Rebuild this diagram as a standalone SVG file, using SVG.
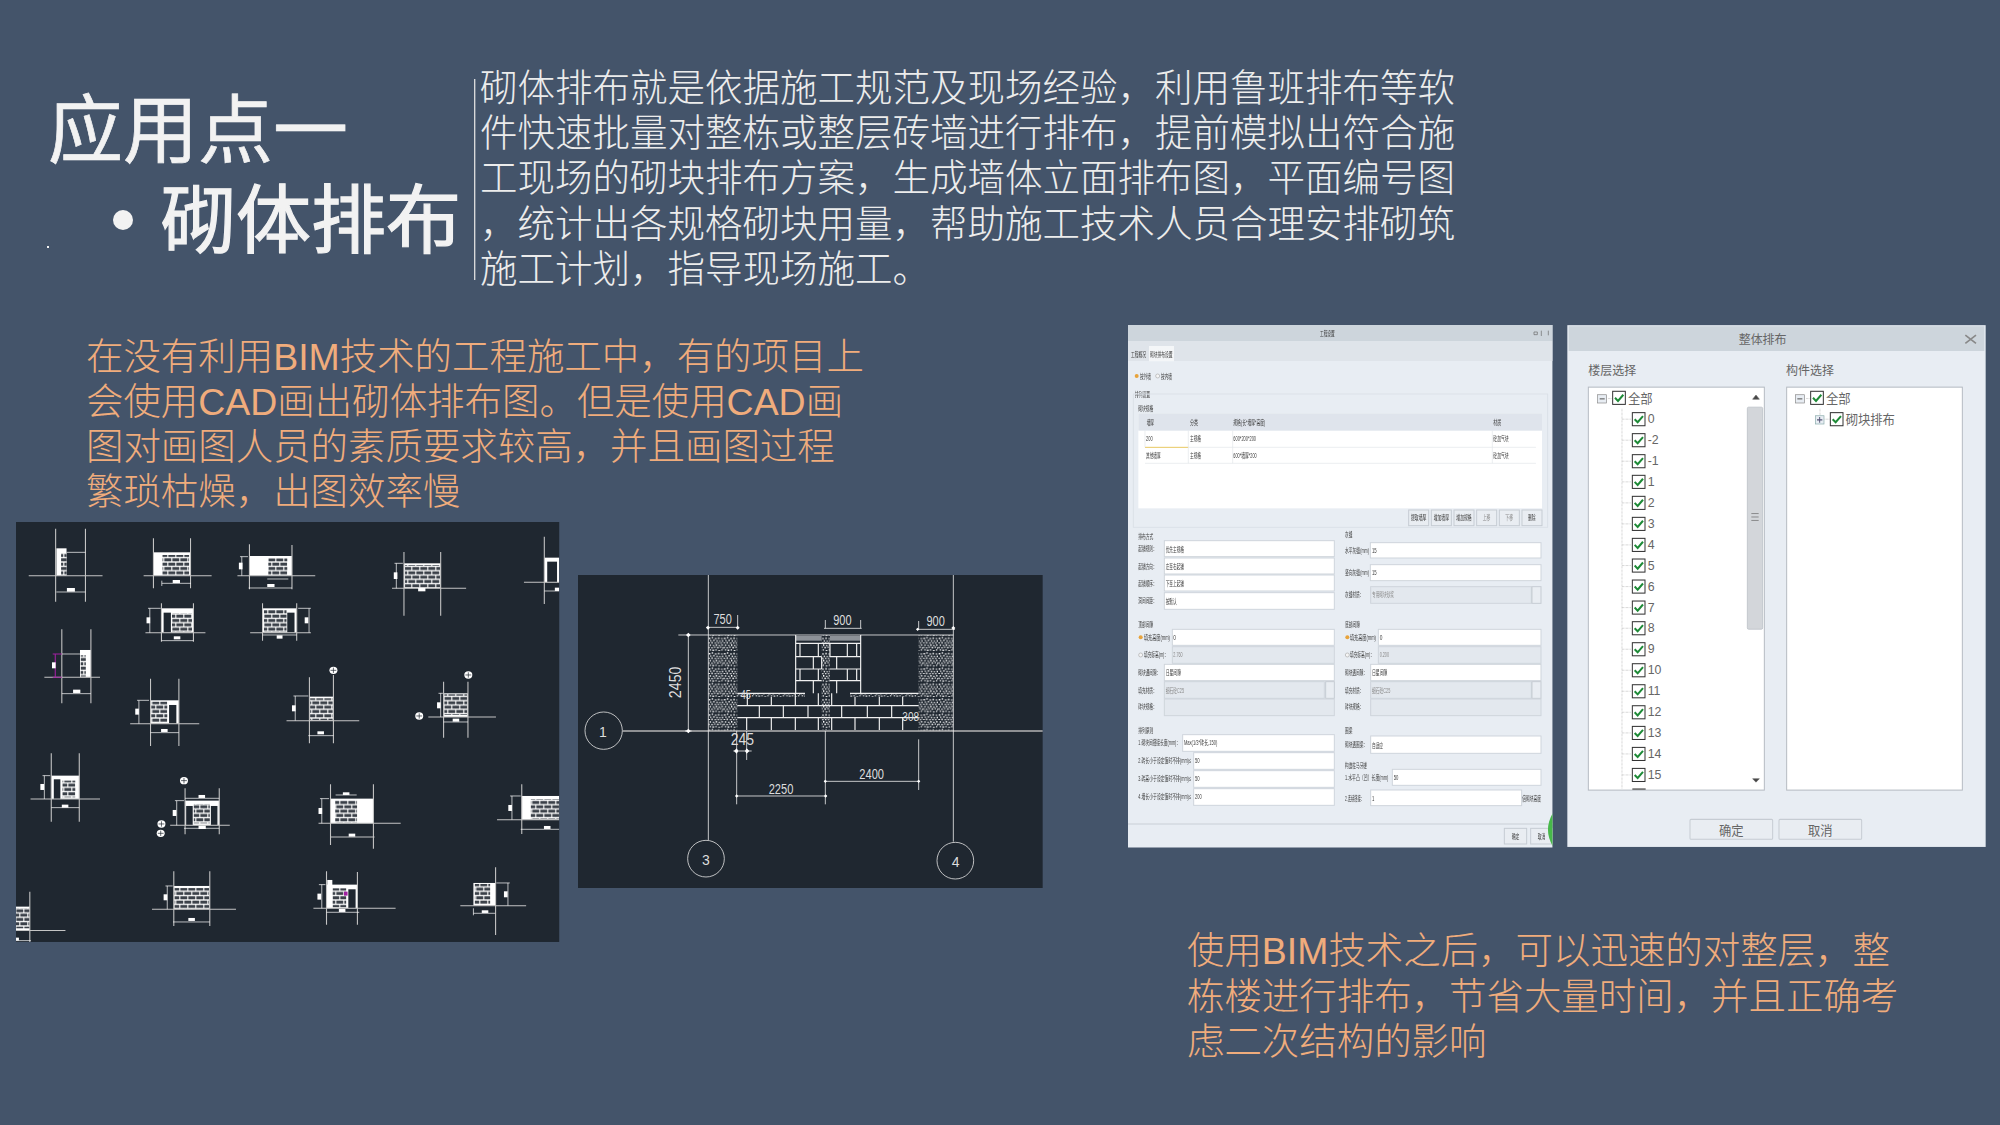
<svg xmlns="http://www.w3.org/2000/svg" xmlns:xlink="http://www.w3.org/1999/xlink" width="2000" height="1125" viewBox="0 0 2000 1125">
<style>
text{font-family:"Liberation Sans","Noto Sans CJK SC",sans-serif}
.title{font-family:"Noto Sans CJK SC",sans-serif;fill:#f2f2f2;stroke:#f2f2f2;font-size:75px}
.body{fill:#ececec;font-size:37.5px;font-weight:300}
.org{fill:#f0ac7c;font-size:37.45px;font-weight:300}
.cad{fill:#1f2730}
.g{stroke:#c4c4c4;stroke-width:3;fill:none}
.d{stroke:#fff;stroke-width:2;fill:none}
.w{fill:#fff}
.k{fill:#1f2730}
.b{fill:url(#brick)}
.l{stroke:#f0f0f0;stroke-width:2.4;fill:none}
.l2{stroke:#f0f0f0;stroke-width:3.5;fill:none}
.dt{fill:#ddd;text-anchor:middle}
.t{fill:#3c3c3c}
.tg{fill:#8a8a8a}
.in{fill:#fff;stroke:#cfd5dc;stroke-width:3}
.ds{fill:#e3e8ee;stroke:#cfd5dc;stroke-width:3}
.btn{fill:#e9edf2;stroke:#c6ccd3;stroke-width:3}
.sec{fill:none;stroke:#dbe1e8;stroke-width:3}
.u{fill:#666;font-size:37px}
.h{fill:#666;font-size:36px}
.bx{fill:#fff;stroke:#b5bbc2;stroke-width:3}
.dot{stroke:#aaa;stroke-width:2;stroke-dasharray:2 2;fill:none}
</style>
<defs>
<pattern id="brick" patternUnits="userSpaceOnUse" width="44" height="26">
<rect width="44" height="26" fill="#fff"/>
<rect x="1" y="2" width="19" height="9" fill="#3a4048"/><rect x="23" y="2" width="19" height="9" fill="#3a4048"/>
<rect x="0" y="15" width="9" height="9" fill="#3a4048"/><rect x="12" y="15" width="19" height="9" fill="#3a4048"/><rect x="34" y="15" width="10" height="9" fill="#3a4048"/>
</pattern>
<pattern id="stip" patternUnits="userSpaceOnUse" width="46" height="46">
<rect width="46" height="46" fill="#1f2730"/>
<path d="M2 3h5v4H2zM11 1h4v4h-4zM20 4h6v3h-6zM30 2h4v5h-4zM39 4h5v3h-5zM6 10h4v4H6zM15 9h5v4h-5zM25 11h4v4h-4zM33 12h5v3h-5zM42 11h4v4h-4zM1 17h5v3H1zM10 16h4v5h-4zM19 18h6v3h-6zM29 17h4v4h-4zM37 18h5v3h-5zM5 24h4v4H5zM14 25h5v3h-5zM23 23h4v5h-4zM32 25h4v4h-4zM40 24h5v3h-5zM1 31h4v4H1zM9 32h6v3H9zM18 30h4v4h-4zM27 31h5v4h-5zM36 30h4v4h-4zM43 32h3v4h-3zM5 38h4v4H5zM13 39h5v4h-5zM22 38h4v4h-4zM31 40h5v3h-5zM40 38h4v4h-4z" fill="#fff"/>
</pattern>
<clipPath id="c1"><rect x="44" y="36" width="1494" height="1260"/></clipPath>
<clipPath id="c3"><rect x="24" y="15" width="1274" height="1568"/></clipPath>
<filter id="soft" x="-2%" y="-2%" width="104%" height="104%"><feGaussianBlur stdDeviation="1"/></filter>
<g id="chk"><rect x="-19" y="-19" width="38" height="38" fill="#fff" stroke="#333" stroke-width="3"/><path d="M-12 0l9 9L13-9" fill="none" stroke="#1d8a36" stroke-width="6"/></g>
<g id="tag"><circle r="11" fill="#fff"/><path d="M-8 0H8M0-8V8" stroke="#1f2730" stroke-width="2"/></g>
</defs>
<rect width="2000" height="1125" fill="#44546a"/>
<g id="heading">
<text class="title" x="48" y="157" stroke-width="0.7" textLength="300">应用点一</text>
<circle cx="123" cy="220" r="10" fill="#f2f2f2"/>
<text class="title" x="161" y="247" stroke-width="1.2" textLength="300">砌体排布</text>
<rect x="47" y="246" width="2" height="2" fill="#f2f2f2"/>
</g>
<g id="intro">
<line x1="474.7" y1="79" x2="474.7" y2="280" stroke="#e0e0e0" stroke-width="1.3"/>
<text class="body" x="480" y="101">砌体排布就是依据施工规范及现场经验，利用鲁班排布等软</text>
<text class="body" x="480" y="146">件快速批量对整栋或整层砖墙进行排布，提前模拟出符合施</text>
<text class="body" x="480" y="191">工现场的砌块排布方案，生成墙体立面排布图，平面编号图</text>
<text class="body" x="480" y="237">，统计出各规格砌块用量，帮助施工技术人员合理安排砌筑</text>
<text class="body" x="480" y="282">施工计划，指导现场施工。</text>
</g>
<g id="note-left">
<text class="org" x="86" y="370">在没有利用BIM技术的工程施工中，有的项目上</text>
<text class="org" x="86" y="415">会使用CAD画出砌体排布图。但是使用CAD画</text>
<text class="org" x="86" y="460">图对画图人员的素质要求较高，并且画图过程</text>
<text class="org" x="86" y="505">繁琐枯燥，出图效率慢</text>
</g>
<g id="note-right">
<text class="org" x="1187" y="964">使用BIM技术之后，可以迅速的对整层，整</text>
<text class="org" x="1187" y="1010">栋楼进行排布，节省大量时间，并且正确考</text>
<text class="org" x="1187" y="1055">虑二次结构的影响</text>
</g>

<g id="cad-sheet" transform="translate(0,510) scale(0.3636,0.3333)">
<rect class="cad" x="44" y="36" width="1494" height="1260"/>
<g clip-path="url(#c1)">
<rect class="w" x="155" y="115" width="28" height="82"/><rect class="b" x="168" y="130" width="15" height="65"/>
<path class="g" d="M153 56V275M235 56V275M79 197H282"/><path class="d" d="M183 127H235M155 246H235"/><rect class="w" x="184" y="234" width="22" height="11"/>

<rect class="w" x="422" y="127" width="102" height="70"/><rect class="b" x="447" y="135" width="73" height="60"/>
<path class="g" d="M422 85V235M524 85V235M395 197H582"/><path class="d" d="M445 220H525M445 212V228"/><rect class="w" x="475" y="210" width="20" height="9"/>

<rect class="w" x="686" y="138" width="117" height="59"/><rect class="b" x="738" y="145" width="52" height="50"/>
<path class="g" d="M686 103V238M803 105V238M653 197H867"/><path class="d" d="M735 207H793M684 234H803M665 140V197M660 140H682"/><rect class="w" x="735" y="222" width="20" height="9"/><rect class="w" x="657" y="158" width="10" height="20"/>

<rect class="w" x="1111" y="160" width="101" height="75"/><rect class="b" x="1114" y="165" width="96" height="68"/>
<path class="g" d="M1111 126V317M1212 126V317M1078 235H1282"/><path class="d" d="M1090 160V235M1085 160H1108"/><rect class="w" x="1150" y="234" width="20" height="10"/><rect class="w" x="1083" y="187" width="10" height="20"/>

<rect class="w" x="1497" y="143" width="41" height="74"/><rect class="k" x="1505" y="155" width="27" height="62"/>
<path class="g" d="M1497 80V282M1441 217H1538"/><path class="d" d="M1497 243H1538"/><rect class="w" x="1526" y="233" width="12" height="10"/>

<rect class="w" x="444" y="295" width="88" height="73"/><rect class="k" x="450" y="308" width="20" height="60"/><rect class="b" x="473" y="310" width="55" height="56"/>
<path class="g" d="M444 280V395M532 280V395M400 368H565"/><path class="d" d="M412 295V368M407 295H442M444 392H532"/><rect class="w" x="403" y="322" width="10" height="18"/><rect class="w" x="478" y="379" width="18" height="9"/>

<rect class="w" x="722" y="295" width="94" height="73"/><rect class="b" x="726" y="300" width="62" height="66"/><rect class="k" x="790" y="308" width="20" height="60"/>
<path class="g" d="M722 280V392M816 280V392M688 368H855"/><path class="d" d="M850 295V368M820 295H855M722 375H816"/><rect class="w" x="838" y="322" width="10" height="18"/><rect class="w" x="761" y="376" width="16" height="10"/>

<rect class="w" x="220" y="420" width="30" height="82"/><rect class="b" x="222" y="436" width="14" height="64"/>
<path class="g" d="M170 358V580M250 358V580M122 502H275"/><path class="d" d="M170 432H220M170 551H250"/><path d="M152 432V502M145 432H170M145 502H170" stroke="#a020a0" stroke-width="3" fill="none"/><rect class="w" x="143" y="457" width="10" height="18"/><rect class="w" x="201" y="539" width="20" height="10"/>

<rect class="w" x="414" y="571" width="78" height="70"/><rect class="b" x="416" y="575" width="44" height="62"/><rect class="k" x="465" y="585" width="20" height="56"/>
<path class="g" d="M414 506V708M492 506V708M358 641H548"/><path class="d" d="M382 571V641M377 571H410M414 668H492"/><rect class="w" x="372" y="596" width="10" height="18"/><rect class="w" x="443" y="657" width="18" height="9"/>

<rect class="w" x="851" y="560" width="66" height="72"/><rect class="b" x="853" y="565" width="62" height="65"/>
<path class="g" d="M851 502V700M917 495V700M788 632H988"/><path class="d" d="M812 558V632M807 558H848M848 677H917"/><rect class="w" x="803" y="586" width="10" height="18"/><rect class="w" x="873" y="664" width="18" height="9"/><use href="#tag" x="917" y="481"/>

<rect class="w" x="1220" y="550" width="67" height="71"/><rect class="b" x="1222" y="553" width="63" height="62"/>
<path class="g" d="M1220 515V683M1287 515V683M1178 621H1364"/><path class="d" d="M1212 550V621M1206 550H1218M1220 636H1287"/><rect class="w" x="1202" y="577" width="10" height="18"/><rect class="w" x="1245" y="626" width="18" height="9"/><use href="#tag" x="1288" y="495"/><use href="#tag" x="1153" y="618"/>

<rect class="w" x="141" y="797" width="77" height="70"/><rect class="k" x="148" y="808" width="18" height="59"/><rect class="b" x="172" y="812" width="35" height="50"/>
<path class="g" d="M141 730V935M218 730V935M84 867H275"/><path class="d" d="M122 797V867M117 797H138M141 893H218"/><rect class="w" x="111" y="822" width="10" height="18"/><rect class="w" x="170" y="884" width="18" height="9"/>

<rect class="w" x="509" y="872" width="94" height="74"/><rect class="k" x="512" y="888" width="18" height="58"/><rect class="k" x="580" y="888" width="18" height="58"/><rect class="b" x="533" y="882" width="44" height="58"/>
<path class="g" d="M509 835V973M603 835V973M468 946H632"/><path class="d" d="M509 865H603M486 872V946M481 872H506M506 955H603"/><rect class="w" x="546" y="855" width="18" height="9"/><rect class="w" x="475" y="900" width="10" height="18"/><rect class="w" x="546" y="947" width="20" height="10"/><use href="#tag" x="506" y="812"/><use href="#tag" x="444" y="942"/><use href="#tag" x="442" y="970"/>

<rect class="w" x="909" y="866" width="118" height="74"/><rect class="b" x="922" y="870" width="60" height="68"/>
<path class="g" d="M909 823V1005M1027 823V1016M876 940H1102M909 981H1030"/><path class="d" d="M923 855H981M885 866V940M880 866H905"/><rect class="w" x="943" y="847" width="18" height="8"/><rect class="w" x="876" y="894" width="10" height="18"/><rect class="w" x="959" y="971" width="18" height="9"/>

<rect class="w" x="1435" y="858" width="103" height="71"/><rect class="b" x="1460" y="868" width="78" height="58"/>
<path class="g" d="M1435 823V972M1367 929H1538"/><path class="d" d="M1408 858V929M1403 858H1432M1432 958H1538"/><rect class="w" x="1398" y="885" width="10" height="18"/><rect class="w" x="1496" y="948" width="18" height="9"/>

<rect class="w" x="44" y="1190" width="38" height="72"/><rect class="b" x="44" y="1195" width="38" height="60"/>
<path class="g" d="M82 1145V1296M44 1262H180"/><path class="d" d="M44 1292H85"/><rect class="w" x="44" y="1283" width="8" height="9"/>

<rect class="w" x="478" y="1128" width="99" height="70"/><rect class="b" x="480" y="1134" width="95" height="62"/>
<path class="g" d="M478 1084V1248M577 1084V1248M418 1198H649"/><path class="d" d="M460 1128V1198M455 1128H475M476 1236H577"/><rect class="w" x="450" y="1153" width="10" height="18"/><rect class="w" x="518" y="1224" width="18" height="9"/>

<rect class="w" x="898" y="1124" width="85" height="71"/><rect class="w" x="900" y="1110" width="14" height="16"/><rect class="b" x="915" y="1135" width="37" height="57"/><rect class="k" x="958" y="1138" width="20" height="57"/><rect x="946" y="1145" width="10" height="12" fill="#a020a0"/>
<path class="g" d="M898 1084V1244M983 1086V1244M862 1195H1088"/><path class="d" d="M885 1124V1195M877 1124H895M898 1207H988"/><rect class="w" x="873" y="1151" width="10" height="18"/><rect class="w" x="932" y="1197" width="18" height="9"/>

<rect class="w" x="1302" y="1119" width="61" height="68"/><rect class="b" x="1306" y="1122" width="42" height="60"/>
<path class="g" d="M1363 1072V1275M1266 1187H1447"/><path class="d" d="M1397 1119V1187M1365 1119H1402M1302 1210H1362M1302 1195V1216"/><rect class="w" x="1386" y="1144" width="10" height="18"/><rect class="w" x="1325" y="1201" width="18" height="8"/>
</g>
</g>

<g id="cad-detail" transform="translate(570,560) scale(0.33333)">
<rect class="cad" x="24" y="45" width="1394" height="939"/>
<rect x="415" y="225" width="87" height="288" fill="url(#stip)"/>
<rect x="1046" y="225" width="104" height="288" fill="url(#stip)"/>
<rect x="755" y="225" width="25" height="285" fill="url(#stip)"/>
<rect x="500" y="400" width="205" height="10" fill="url(#stip)"/><rect x="840" y="400" width="206" height="10" fill="url(#stip)"/>
<rect x="677" y="228" width="78" height="14" fill="#8d9298"/><rect x="780" y="228" width="92" height="14" fill="#8d9298"/>
<path class="l2" d="M677 225V400M872 225V400M677 250H872M677 290H755M780 290H872M677 327H755M780 327H872M677 362H755M780 362H872M502 437H1046M502 473H1046M502 400H705M840 400H1046M690 250V290M745 250V290M780 250V290M832 250V290M860 250V290M730 290V327M755 290V327M800 290V327M690 327V362M745 327V362M832 327V362M860 327V362M730 362V400M800 362V400"/>
<path class="l2" d="M530 473V510M604 473V510M676 473V510M745 473V510M785 473V510M855 473V510M928 473V510M998 473V510M568 437V473M640 437V473M714 437V473M815 437V473M892 437V473M965 437V473M532 400V437M604 410V437M676 400V437M745 400V437M785 400V437M855 410V437M928 410V437M998 410V437"/>
<path d="M158 513H1418" stroke="#b5b5b5" stroke-width="5"/>
<path class="l" d="M415 45V840M1150 45V845M325 225H1150M766 513V733M500 513V733M1046 538V690M530 513V600"/>
<circle cx="101" cy="512" r="56" fill="none" stroke="#ddd" stroke-width="2.5"/>
<circle cx="408" cy="896" r="55" fill="none" stroke="#ddd" stroke-width="2.5"/>
<circle cx="1156" cy="902" r="55" fill="none" stroke="#ddd" stroke-width="2.5"/>
<g font-size="42">
<text class="dt" x="99" y="530">1</text><text class="dt" x="408" y="914">3</text><text class="dt" x="1157" y="922">4</text>
<path class="l" d="M408 202H505M503 165V202M762 205H875M766 180V205M872 180V205M1040 208H1155M1046 183V208M355 225V513M345 513H365M498 708H770M762 664H1050M490 573H545"/>
<path d="M355 218l7 7-7 7-7-7zM355 506l7 7-7 7-7-7zM414 197l6 6-6 6-6-6zM503 197l6 6-6 6-6-6zM1150 198l6 6-6 6-6-6zM1043 203l5 5-5 5-5-5zM500 703l5 5-5 5-5-5zM767 703l5 5-5 5-5-5zM766 659l5 5-5 5-5-5zM1046 659l5 5-5 5-5-5zM500 565l5 8-5 8-8-8zM530 565l8 8-8 8-5-8z" fill="#fff"/>
<text class="dt" x="458" y="192" font-size="46" textLength="55" lengthAdjust="spacingAndGlyphs">750</text>
<text class="dt" x="817" y="195" font-size="46" textLength="55" lengthAdjust="spacingAndGlyphs">900</text>
<text class="dt" x="1097" y="198" font-size="46" textLength="55" lengthAdjust="spacingAndGlyphs">900</text>
<text class="dt" transform="translate(334,367) rotate(-90)" font-size="48" textLength="95" lengthAdjust="spacingAndGlyphs">2450</text>
<text class="dt" x="517" y="556" font-size="50" textLength="70" lengthAdjust="spacingAndGlyphs">245</text>
<text class="dt" x="633" y="701" font-size="42" textLength="74" lengthAdjust="spacingAndGlyphs">2250</text>
<text class="dt" x="905" y="657" font-size="42" textLength="74" lengthAdjust="spacingAndGlyphs">2400</text>
<text class="dt" x="527" y="418" font-size="36" textLength="30" lengthAdjust="spacingAndGlyphs">45</text>
<text class="dt" x="1022" y="484" font-size="36" textLength="50" lengthAdjust="spacingAndGlyphs">308</text>
</g>
</g>

<g id="dialog-settings" transform="translate(1120,320) scale(0.33333)" clip-path="url(#c3)">
<rect x="24" y="15" width="1274" height="1568" fill="#e8edf3"/>
<rect x="24" y="15" width="1274" height="48" fill="#cdd5dc"/>
<rect x="24" y="63" width="1274" height="60" fill="#dfe4ea"/>
<rect x="87" y="78" width="75" height="46" fill="#f4f6f8"/>
<g filter="url(#soft)" font-size="21">
<text class="t" x="600" y="48" textLength="44" lengthAdjust="spacingAndGlyphs">工程设置</text>
<path d="M1242 36h10v8h-10zM1264 32v16M1285 32v14" stroke="#666" stroke-width="2" fill="none"/>
<text class="t" x="33" y="110" textLength="45" lengthAdjust="spacingAndGlyphs">工程概况</text><text class="t" x="90" y="110" textLength="68" lengthAdjust="spacingAndGlyphs">砌块排布设置</text>
<circle cx="50" cy="168" r="6" fill="#e8a33a"/><text class="t" x="60" y="176" textLength="33" lengthAdjust="spacingAndGlyphs">按外墙</text>
<circle cx="113" cy="168" r="6" fill="#f5f5f5" stroke="#aaa" stroke-width="2"/><text class="t" x="123" y="176" textLength="33" lengthAdjust="spacingAndGlyphs">按内墙</text>
<text class="t" x="45" y="230" textLength="45" lengthAdjust="spacingAndGlyphs">排列设置</text><text class="t" x="55" y="272" textLength="45" lengthAdjust="spacingAndGlyphs">砌块规格</text>
<rect class="sec" x="40" y="222" width="1243" height="400"/>
<rect x="55" y="280" width="1211" height="285" fill="#fff"/>
<rect x="55" y="280" width="1211" height="52" fill="#dfe4ec"/>
<text class="t" x="80" y="314" textLength="22" lengthAdjust="spacingAndGlyphs">墙厚</text><text class="t" x="210" y="314" textLength="24" lengthAdjust="spacingAndGlyphs">分类</text><text class="t" x="340" y="314" textLength="96" lengthAdjust="spacingAndGlyphs">规格(长*墙厚*高度)</text><text class="t" x="1120" y="314" textLength="24" lengthAdjust="spacingAndGlyphs">材质</text>
<text class="t" x="78" y="364" textLength="20" lengthAdjust="spacingAndGlyphs">200</text><text class="t" x="210" y="364" textLength="33" lengthAdjust="spacingAndGlyphs">主规格</text><text class="t" x="340" y="364" textLength="68" lengthAdjust="spacingAndGlyphs">600*200*200</text><text class="t" x="1120" y="364" textLength="46" lengthAdjust="spacingAndGlyphs">砼加气块</text>
<text class="t" x="78" y="414" textLength="44" lengthAdjust="spacingAndGlyphs">其他墙厚</text><text class="t" x="210" y="414" textLength="33" lengthAdjust="spacingAndGlyphs">主规格</text><text class="t" x="340" y="414" textLength="70" lengthAdjust="spacingAndGlyphs">600*墙厚*200</text><text class="t" x="1120" y="414" textLength="46" lengthAdjust="spacingAndGlyphs">砼加气块</text>
<path d="M75 382H205" stroke="#e8c860" stroke-width="3"/><path d="M75 332V382M205 332V430M338 332V430M1117 332V430M75 430H1248M205 382H1248" stroke="#e2e6ea" stroke-width="2" fill="none"/>
<rect class="btn" x="866" y="570" width="60" height="47"/><rect class="btn" x="934" y="570" width="60" height="47"/><rect class="btn" x="1002" y="570" width="60" height="47"/><rect class="btn" x="1070" y="570" width="60" height="47"/><rect class="btn" x="1138" y="570" width="60" height="47"/><rect class="btn" x="1206" y="570" width="60" height="47"/>
<text class="t" x="873" y="601" textLength="46" lengthAdjust="spacingAndGlyphs">提取墙厚</text><text class="t" x="941" y="601" textLength="46" lengthAdjust="spacingAndGlyphs">增加墙厚</text><text class="t" x="1009" y="601" textLength="46" lengthAdjust="spacingAndGlyphs">增加规格</text><text class="tg" x="1088" y="601" textLength="23" lengthAdjust="spacingAndGlyphs">上移</text><text class="tg" x="1156" y="601" textLength="23" lengthAdjust="spacingAndGlyphs">下移</text><text class="t" x="1224" y="601" textLength="23" lengthAdjust="spacingAndGlyphs">删除</text>

<text class="t" x="55" y="658" textLength="45" lengthAdjust="spacingAndGlyphs">排布方式</text><text class="t" x="675" y="652" textLength="22" lengthAdjust="spacingAndGlyphs">灰缝</text>
<text class="t" x="55" y="694" textLength="55" lengthAdjust="spacingAndGlyphs">起铺规则：</text><rect class="in" x="133" y="662" width="510" height="48"/><text class="t" x="137" y="695" textLength="55" lengthAdjust="spacingAndGlyphs">优先主规格</text>
<text class="t" x="55" y="746" textLength="55" lengthAdjust="spacingAndGlyphs">起铺方向：</text><rect class="in" x="133" y="714" width="510" height="48"/><text class="t" x="137" y="747" textLength="55" lengthAdjust="spacingAndGlyphs">左至右起铺</text>
<text class="t" x="55" y="798" textLength="55" lengthAdjust="spacingAndGlyphs">起铺顺序：</text><rect class="in" x="133" y="765" width="510" height="48"/><text class="t" x="137" y="798" textLength="55" lengthAdjust="spacingAndGlyphs">下至上起铺</text>
<text class="t" x="55" y="850" textLength="55" lengthAdjust="spacingAndGlyphs">洞间间距：</text><rect class="in" x="133" y="818" width="510" height="50"/><text class="t" x="137" y="852" textLength="33" lengthAdjust="spacingAndGlyphs">按默认</text>
<text class="t" x="675" y="700" textLength="72" lengthAdjust="spacingAndGlyphs">水平灰缝(mm)</text><rect class="in" x="751" y="668" width="512" height="46"/><text class="t" x="756" y="700" textLength="14" lengthAdjust="spacingAndGlyphs">15</text>
<text class="t" x="675" y="766" textLength="72" lengthAdjust="spacingAndGlyphs">竖向灰缝(mm)</text><rect class="in" x="751" y="734" width="512" height="48"/><text class="t" x="756" y="766" textLength="14" lengthAdjust="spacingAndGlyphs">15</text>
<text class="t" x="675" y="832" textLength="55" lengthAdjust="spacingAndGlyphs">灰缝材质：</text><rect class="ds" x="752" y="800" width="482" height="50"/><text class="tg" x="756" y="832" textLength="66" lengthAdjust="spacingAndGlyphs">专用砌块砂浆</text><rect class="btn" x="1236" y="800" width="27" height="50"/>

<text class="t" x="55" y="922" textLength="45" lengthAdjust="spacingAndGlyphs">顶部间隙</text><text class="t" x="675" y="922" textLength="45" lengthAdjust="spacingAndGlyphs">底部间隙</text>
<circle cx="62" cy="952" r="6" fill="#e8a33a"/><text class="t" x="72" y="960" textLength="78" lengthAdjust="spacingAndGlyphs">填充高度(mm)</text><rect class="in" x="157" y="928" width="486" height="48"/><text class="t" x="160" y="960" textLength="8" lengthAdjust="spacingAndGlyphs">0</text>
<circle cx="62" cy="1005" r="6" fill="#f5f5f5" stroke="#aaa" stroke-width="2"/><text class="t" x="72" y="1012" textLength="72" lengthAdjust="spacingAndGlyphs">填充标高(m)：</text><rect class="ds" x="157" y="980" width="486" height="50"/><text class="tg" x="160" y="1012" textLength="28" lengthAdjust="spacingAndGlyphs">2.760</text>
<text class="t" x="55" y="1066" textLength="66" lengthAdjust="spacingAndGlyphs">砌块遇间隙：</text><rect class="in" x="133" y="1033" width="510" height="49"/><text class="t" x="137" y="1066" textLength="46" lengthAdjust="spacingAndGlyphs">日星间隙</text>
<text class="t" x="55" y="1118" textLength="55" lengthAdjust="spacingAndGlyphs">填充材质：</text><rect class="ds" x="133" y="1085" width="480" height="50"/><text class="tg" x="137" y="1118" textLength="55" lengthAdjust="spacingAndGlyphs">细石砼C25</text><rect class="btn" x="617" y="1085" width="26" height="50"/>
<text class="t" x="55" y="1168" textLength="55" lengthAdjust="spacingAndGlyphs">砖块规格：</text><rect class="ds" x="133" y="1137" width="510" height="50"/>
<circle cx="682" cy="952" r="6" fill="#e8a33a"/><text class="t" x="690" y="960" textLength="78" lengthAdjust="spacingAndGlyphs">填充高度(mm)</text><rect class="in" x="775" y="928" width="488" height="48"/><text class="t" x="779" y="960" textLength="8" lengthAdjust="spacingAndGlyphs">0</text>
<circle cx="682" cy="1005" r="6" fill="#f5f5f5" stroke="#aaa" stroke-width="2"/><text class="t" x="690" y="1012" textLength="72" lengthAdjust="spacingAndGlyphs">填充标高(m)：</text><rect class="ds" x="775" y="980" width="488" height="50"/><text class="tg" x="779" y="1012" textLength="28" lengthAdjust="spacingAndGlyphs">0.200</text>
<text class="t" x="675" y="1066" textLength="66" lengthAdjust="spacingAndGlyphs">砌块遇间隙：</text><rect class="in" x="752" y="1033" width="511" height="49"/><text class="t" x="756" y="1066" textLength="46" lengthAdjust="spacingAndGlyphs">日星间隙</text>
<text class="t" x="675" y="1118" textLength="55" lengthAdjust="spacingAndGlyphs">填充材质：</text><rect class="ds" x="752" y="1085" width="482" height="50"/><text class="tg" x="756" y="1118" textLength="55" lengthAdjust="spacingAndGlyphs">细石砼C25</text><rect class="btn" x="1236" y="1085" width="27" height="50"/>
<text class="t" x="675" y="1168" textLength="55" lengthAdjust="spacingAndGlyphs">砖块规格：</text><rect class="ds" x="752" y="1137" width="511" height="50"/>

<text class="t" x="55" y="1238" textLength="45" lengthAdjust="spacingAndGlyphs">排列原则</text><text class="t" x="675" y="1238" textLength="22" lengthAdjust="spacingAndGlyphs">圈梁</text>
<text class="t" x="55" y="1276" textLength="125" lengthAdjust="spacingAndGlyphs">1.砌块间搭接长度(mm)：</text><rect class="in" x="188" y="1244" width="455" height="50"/><text class="t" x="192" y="1276" textLength="100" lengthAdjust="spacingAndGlyphs">Max(1/3*砖长,150)</text>
<text class="t" x="55" y="1330" textLength="158" lengthAdjust="spacingAndGlyphs">2.砖长小于设定值时不排(mm)≤</text><rect class="in" x="221" y="1298" width="422" height="50"/><text class="t" x="225" y="1330" textLength="14" lengthAdjust="spacingAndGlyphs">50</text>
<text class="t" x="55" y="1384" textLength="158" lengthAdjust="spacingAndGlyphs">3.砖高小于设定值时不排(mm)≤</text><rect class="in" x="221" y="1352" width="422" height="50"/><text class="t" x="225" y="1384" textLength="14" lengthAdjust="spacingAndGlyphs">50</text>
<text class="t" x="55" y="1438" textLength="158" lengthAdjust="spacingAndGlyphs">4.墙长小于设定值时不排(mm)≤</text><rect class="in" x="221" y="1406" width="422" height="50"/><text class="t" x="225" y="1438" textLength="20" lengthAdjust="spacingAndGlyphs">200</text>
<text class="t" x="675" y="1282" textLength="66" lengthAdjust="spacingAndGlyphs">砌块遇圈梁：</text><rect class="in" x="752" y="1248" width="511" height="52"/><text class="t" x="756" y="1284" textLength="33" lengthAdjust="spacingAndGlyphs">自适应</text>
<text class="t" x="675" y="1345" textLength="66" lengthAdjust="spacingAndGlyphs">构造柱马牙槎</text>
<text class="t" x="675" y="1380" textLength="130" lengthAdjust="spacingAndGlyphs">1.水平凸（凹）长度(mm)</text><rect class="in" x="817" y="1348" width="446" height="48"/><text class="t" x="821" y="1380" textLength="14" lengthAdjust="spacingAndGlyphs">50</text>
<text class="t" x="675" y="1442" textLength="57" lengthAdjust="spacingAndGlyphs">2.连续搭接：</text><rect class="in" x="752" y="1410" width="453" height="47"/><text class="t" x="756" y="1442" textLength="7" lengthAdjust="spacingAndGlyphs">1</text><text class="t" x="1207" y="1442" textLength="56" lengthAdjust="spacingAndGlyphs">倍砌块高度</text>
<path d="M24 1512H1298" stroke="#c9cfd6" stroke-width="3"/>
<rect class="btn" x="1153" y="1525" width="67" height="47"/><rect class="btn" x="1232" y="1525" width="66" height="47"/>
<text class="t" x="1175" y="1557" textLength="23" lengthAdjust="spacingAndGlyphs">确定</text><text class="t" x="1253" y="1557" textLength="23" lengthAdjust="spacingAndGlyphs">取消</text>
<path d="M1298 1480Q1270 1530 1298 1578Z" fill="#46b84a"/>
</g>
</g>

<g id="dialog-layout" transform="translate(1560,320) scale(0.33333,0.3444)">
<rect x="22" y="15" width="1255" height="1515" fill="#e8edf3"/>
<rect x="26" y="18" width="1247" height="72" fill="#cdd5dc"/>
<text class="h" x="536" y="70">整体排布</text>
<path d="M1216 44l32 24M1248 44l-32 24" stroke="#888" stroke-width="5"/>
<text class="h" x="85" y="160">楼层选择</text>
<text class="h" x="678" y="160">构件选择</text>
<rect class="bx" x="85" y="195" width="528" height="1170"/>
<rect class="bx" x="680" y="195" width="527" height="1170"/>
<rect x="562" y="253" width="46" height="645" rx="4" fill="#d3d6da" stroke="#b5bbc2" stroke-width="2"/>
<path d="M578 230h20l-10-12zM578 1332h20l-10 10zM574 562h22M574 572h22M574 582h22" fill="#444" stroke="#666" stroke-width="2"/>
<path class="dot" d="M186 258V1362M186 288H214M186 349H214M186 410H214M186 470H214M186 531H214M186 592H214M186 653H214M186 713H214M186 774H214M186 835H214M186 895H214M186 956H214M186 1017H214M186 1078H214M186 1139H214M186 1199H214M186 1260H214M186 1321H214M144 228H156M738 228H750M780 258V278M794 288H808"/>
<rect x="113" y="217" width="27" height="24" fill="#e8edf3" stroke="#888" stroke-width="2"/><path d="M119 229h15" stroke="#555" stroke-width="3"/>
<use href="#chk" x="177" y="226"/><text class="u" x="204" y="240">全部</text>
<use href="#chk" x="236" y="288"/><text class="u" x="263" y="300">0</text>
<use href="#chk" x="236" y="349"/><text class="u" x="263" y="361">-2</text>
<use href="#chk" x="236" y="410"/><text class="u" x="263" y="422">-1</text>
<use href="#chk" x="236" y="470"/><text class="u" x="263" y="482">1</text>
<use href="#chk" x="236" y="531"/><text class="u" x="263" y="543">2</text>
<use href="#chk" x="236" y="592"/><text class="u" x="263" y="604">3</text>
<use href="#chk" x="236" y="653"/><text class="u" x="263" y="665">4</text>
<use href="#chk" x="236" y="713"/><text class="u" x="263" y="725">5</text>
<use href="#chk" x="236" y="774"/><text class="u" x="263" y="786">6</text>
<use href="#chk" x="236" y="835"/><text class="u" x="263" y="847">7</text>
<use href="#chk" x="236" y="895"/><text class="u" x="263" y="907">8</text>
<use href="#chk" x="236" y="956"/><text class="u" x="263" y="968">9</text>
<use href="#chk" x="236" y="1017"/><text class="u" x="263" y="1029">10</text>
<use href="#chk" x="236" y="1078"/><text class="u" x="263" y="1090">11</text>
<use href="#chk" x="236" y="1139"/><text class="u" x="263" y="1151">12</text>
<use href="#chk" x="236" y="1199"/><text class="u" x="263" y="1211">13</text>
<use href="#chk" x="236" y="1260"/><text class="u" x="263" y="1272">14</text>
<use href="#chk" x="236" y="1321"/><text class="u" x="263" y="1333">15</text>
<rect x="217" y="1360" width="40" height="4" fill="#555"/>
<rect x="706" y="217" width="27" height="24" fill="#e8edf3" stroke="#888" stroke-width="2"/><path d="M712 229h15" stroke="#555" stroke-width="3"/>
<use href="#chk" x="771" y="226"/><text class="u" x="798" y="240">全部</text>
<rect x="766" y="278" width="26" height="24" fill="#e8edf3" stroke="#8aa" stroke-width="2"/><path d="M771 290h16M779 282v16" stroke="#557" stroke-width="3"/>
<use href="#chk" x="830" y="288"/><text class="u" x="857" y="301">砌块排布</text>
<rect class="btn" x="390" y="1450" width="248" height="58" rx="3"/><rect class="btn" x="657" y="1450" width="248" height="58" rx="3"/>
<text class="u" x="477" y="1494">确定</text><text class="u" x="744" y="1494">取消</text>
</g>
</svg>
